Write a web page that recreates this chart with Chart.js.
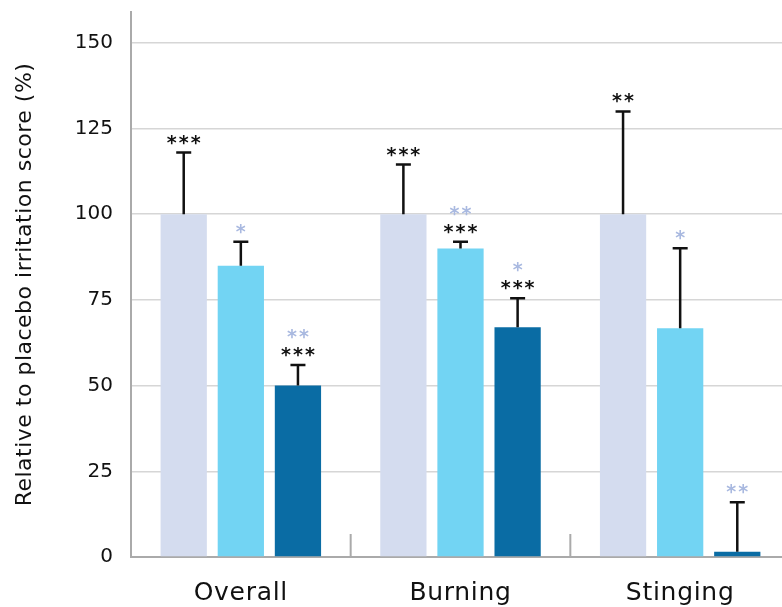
<!DOCTYPE html>
<html>
<head>
<meta charset="utf-8">
<script src="https://cdn.jsdelivr.net/npm/chart.js@4.4.1/dist/chart.umd.min.js"></script>
<style>
  html, body { margin: 0; padding: 0; background: #fff; overflow: hidden; }
  #wrap { width: 782px; height: 607px; overflow: hidden; position: relative; }
  canvas { display: block; }
</style>
</head>
<body>
<div id="wrap"><canvas id="c" width="790" height="615"></canvas></div>
<script>
// ---- Data ----
const categories = ['Overall', 'Burning', 'Stinging'];
const seriesNames = ['Placebo', 'Formulation A', 'Formulation B'];
const placeboValues = [100, 100, 100];
const placeboErrors = [18, 14.5, 30];
const midValues = [85, 90, 66.7];
const midErrors = [7, 2, 23.4];
const highValues = [50, 67, 1.5];
const highErrors = [6, 8.5, 14.5];
const yTickValues = [0, 25, 50, 75, 100, 125, 150];
const yAxisTitle = 'Relative to placebo irritation score (%)';
// significance markers: [black, grey] per bar
const placeboBlackStars = ['***', '***', '**'];
const placeboGreyStars = ['', '', ''];
const midBlackStars = ['', '***', ''];
const midGreyStars = ['*', '**', '*'];
const highBlackStars = ['***', '***', ''];
const highGreyStars = ['**', '*', '**'];

const errorSets = [placeboErrors, midErrors, highErrors];
const blackSets = [placeboBlackStars, midBlackStars, highBlackStars];
const greySets = [placeboGreyStars, midGreyStars, highGreyStars];

const FONT = "'DejaVu Sans', sans-serif";

function withSpacing(fn, spacing) {
  return function (...args) {
    const ctx = this.ctx;
    const prev = ctx.letterSpacing;
    if ('letterSpacing' in ctx) ctx.letterSpacing = spacing;
    const r = fn.apply(this, args);
    if ('letterSpacing' in ctx) ctx.letterSpacing = prev || '0px';
    return r;
  };
}

const spacingPlugin = {
  id: 'spacing',
  afterLayout(chart) {
    const x = chart.scales.x, y = chart.scales.y;
    if (!x._spaced) {
      x.drawLabels = withSpacing(Object.getPrototypeOf(x).drawLabels, '0.7px');
      x._spaced = true;
    }
    if (!y._spaced) {
      y.drawTitle = withSpacing(Object.getPrototypeOf(y).drawTitle, '0.5px');
      y._spaced = true;
    }
  }
};

const errorBarPlugin = {
  id: 'errorBars',
  beforeDatasetsDraw(chart) {
    const ctx = chart.ctx, xs = chart.scales.x, area = chart.chartArea;
    ctx.save();
    ctx.strokeStyle = '#aaaaaa';
    ctx.lineWidth = 2;
    for (let i = 0; i < categories.length - 1; i++) {
      const bx = (xs.getPixelForValue(i) + xs.getPixelForValue(i + 1)) / 2;
      ctx.beginPath();
      ctx.moveTo(bx, area.bottom);
      ctx.lineTo(bx, area.bottom - 23);
      ctx.stroke();
    }
    ctx.restore();
  },
  afterDatasetsDraw(chart) {
    const ctx = chart.ctx, ys = chart.scales.y;
    ctx.save();
    chart.data.datasets.forEach((ds, di) => {
      const meta = chart.getDatasetMeta(di);
      meta.data.forEach((bar, i) => {
        const v = ds.data[i];
        const top = ys.getPixelForValue(v + errorSets[di][i]);
        ctx.strokeStyle = '#111';
        ctx.lineWidth = 2.5;
        ctx.beginPath();
        ctx.moveTo(bar.x, bar.y);
        ctx.lineTo(bar.x, top);
        ctx.moveTo(bar.x - 7.5, top);
        ctx.lineTo(bar.x + 7.5, top);
        ctx.stroke();
        const labels = [];
        if (blackSets[di][i]) labels.push([blackSets[di][i], '#111111']);
        if (greySets[di][i]) labels.push([greySets[di][i], '#a9b9e0']);
        ctx.font = "bold 19px 'DejaVu Sans', sans-serif";
        if ('letterSpacing' in ctx) ctx.letterSpacing = '2px';
        ctx.textAlign = 'center';
        ctx.textBaseline = 'alphabetic';
        labels.forEach((lab, k) => {
          const cy = top - 13 - k * 18;
          const m = ctx.measureText(lab[0]);
          const base = cy + (m.actualBoundingBoxAscent - m.actualBoundingBoxDescent) / 2;
          ctx.fillStyle = lab[1];
          ctx.fillText(lab[0], bar.x + 1, base);
        });
      });
    });
    ctx.restore();
  }
};

new Chart(document.getElementById('c'), {
  type: 'bar',
  data: {
    labels: categories,
    datasets: [
      { label: seriesNames[0], data: placeboValues, backgroundColor: '#d4dcef' },
      { label: seriesNames[1], data: midValues, backgroundColor: '#72d4f3' },
      { label: seriesNames[2], data: highValues, backgroundColor: '#0a6ca4' }
    ]
  },
  options: {
    responsive: false,
    animation: false,
    layout: { padding: { top: 12, right: 0, bottom: 0, left: 0 } },
    datasets: { bar: { categoryPercentage: 0.78, barPercentage: 0.81 } },
    plugins: { legend: { display: false }, tooltip: { enabled: false } },
    scales: {
      x: {
        grid: { display: false, drawTicks: false },
        border: { display: true, color: '#aaaaaa', width: 2 },
        ticks: { color: '#111', font: { family: FONT, size: 25 }, padding: 21 },
        afterFit(s) { s.height = 58; s.paddingLeft = 0; s.paddingRight = 0; }
      },
      y: {
        min: 0,
        max: 159,
        afterBuildTicks(s) { s.ticks = yTickValues.map(v => ({ value: v })); },
        grid: { color: '#d6d6d6', lineWidth: 1.5, drawTicks: false },
        border: { display: true, color: '#aaaaaa', width: 2 },
        ticks: { color: '#111', font: { family: FONT, size: 20 }, padding: 18 },
        title: { display: true, text: yAxisTitle, color: '#111', font: { family: FONT, size: 22 }, padding: { top: 12, bottom: 0 } },
        afterFit(s) { s.width = 131; s.paddingTop = 0; s.paddingBottom = 0; }
      }
    }
  },
  plugins: [spacingPlugin, errorBarPlugin]
});
</script>
</body>
</html>
